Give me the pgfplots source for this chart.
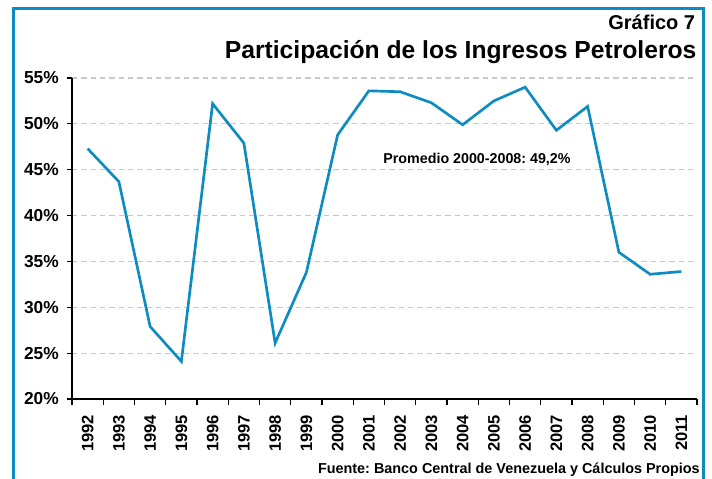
\documentclass[border=0pt]{standalone}
\usepackage{pgfplots}
\pgfplotsset{compat=1.18}
\usepackage{fontspec}
\setmainfont{Liberation Sans}
\frenchspacing
\definecolor{linec}{HTML}{0E8CC2}
\definecolor{gridc}{HTML}{C8C8C8}
\pgfplotstableread{
year val
1992 47.3
1993 43.7
1994 27.9
1995 24.1
1996 52.2
1997 47.9
1998 26.1
1999 33.8
2000 48.8
2001 53.6
2002 53.5
2003 52.3
2004 49.9
2005 52.5
2006 54.0
2007 49.3
2008 51.9
2009 36.0
2010 33.6
2011 33.9
}\datatable
\begin{document}
\begin{tikzpicture}
\useasboundingbox (0,0) rectangle (534pt,358.5pt);
\draw[linec, line width=2.25pt] (10.2pt,-2pt) -- (10.2pt,352pt) -- (527.6pt,352pt) -- (527.6pt,-2pt);
\node[anchor=base east, font=\fontsize{15}{15}\selectfont\bfseries, inner sep=0pt] at (521.5pt,336pt) {Gráfico 7};
\node[anchor=base east, font=\fontsize{18.5}{18.5}\selectfont\bfseries, inner sep=0pt] at (522.5pt,314.5pt) {Participación de los Ingresos Petroleros};
\node[anchor=base east, font=\fontsize{10.8}{10.8}\selectfont\bfseries, inner sep=0pt] at (525pt,3.5pt) {Fuente: Banco Central de Venezuela y Cálculos Propios};
\begin{axis}[
  at={(54pt,59.25pt)}, anchor=south west,
  scale only axis, width=468.75pt, height=240.75pt,
  xmin=1991.5, xmax=2011.5, ymin=20, ymax=55,
  axis x line*=bottom, axis y line*=left,
  axis line style={black, line width=0.8pt, -},
  xtick={1992,...,2011},
  xticklabels={1992,1993,1994,1995,1996,1997,1998,1999,2000,2001,2002,2003,2004,2005,2006,2007,2008,2009,2010,2011},
  minor xtick={1991.5,1992.5,...,2011.5},
  major x tick style={draw=none},
  minor x tick style={black, line width=0.8pt},
  minor tick length=4.5pt,
  ytick={20,25,...,55},
  yticklabels={20\%,25\%,30\%,35\%,40\%,45\%,50\%,55\%},
  ytick style={black, line width=0.8pt},
  major tick length=3.75pt,
  tick align=outside,
  ymajorgrids,
  grid style={gridc, line width=0.8pt, dash pattern=on 4pt off 3pt},
  yticklabel style={font=\fontsize{13}{13}\selectfont\bfseries, inner sep=0pt, xshift=-6pt},
  xticklabel style={font=\fontsize{12.4}{12.4}\selectfont\bfseries, yshift=-8pt, rotate=90, anchor=east, inner sep=0pt},
  clip=false,
]
\addplot[linec, line width=2pt, line join=miter] table[x=year, y=val] {\datatable};
\node[anchor=base, font=\fontsize{10.7}{10.7}\selectfont\bfseries, inner sep=0pt] at (axis cs:2004.46,45.7) {Promedio 2000-2008: 49,2\%};
\end{axis}
\end{tikzpicture}
\end{document}
